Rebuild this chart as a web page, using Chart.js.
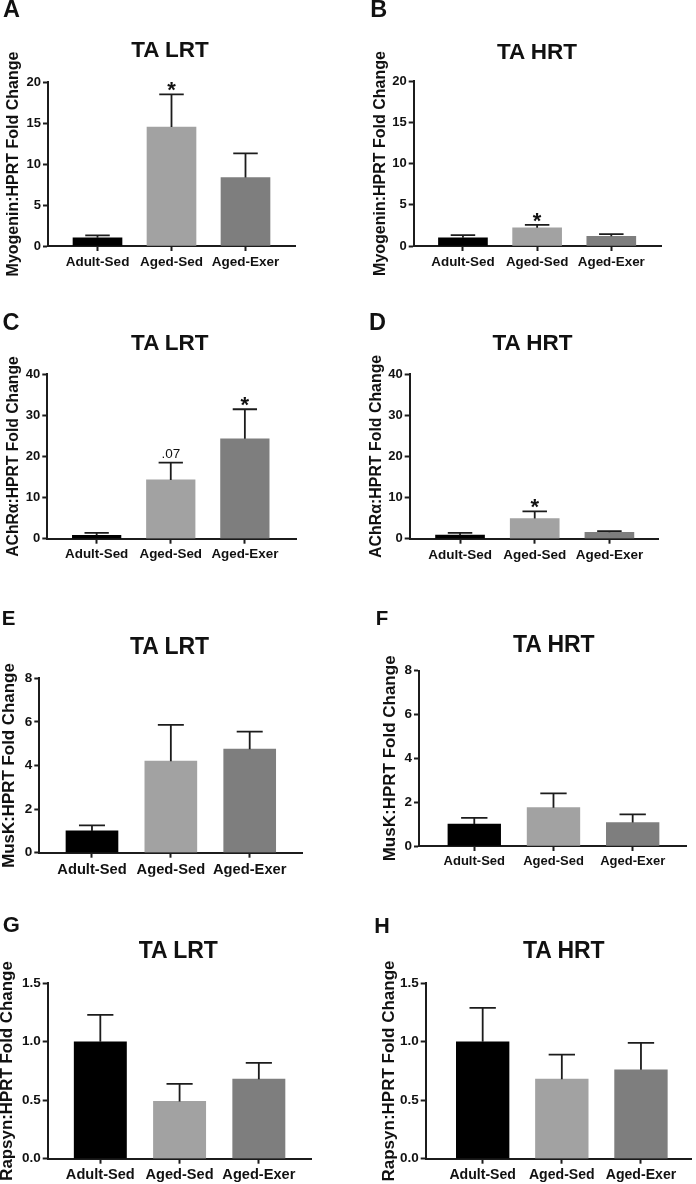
<!DOCTYPE html>
<html>
<head>
<meta charset="utf-8">
<script src="https://cdn.jsdelivr.net/npm/chart.js@4.4.1/dist/chart.umd.min.js"></script>
<style>
    body { margin: 0; background: #fff; }
    #fig { position: relative; width: 696px; height: 1184px; overflow: hidden; background: #fff;
           font-family: "Liberation Sans", Arial, Helvetica, sans-serif; color: #111; }
    #fig canvas { position: absolute; }
    .txt { position: absolute; font-weight: bold; line-height: 1; white-space: nowrap; transform: translateX(-50%); }
</style>
</head>
<body>
<div id="fig"></div>
<script>
// 1. Data
const categories = ['Adult-Sed', 'Aged-Sed', 'Aged-Exer'];
const panelLetters = ['A', 'B', 'C', 'D', 'E', 'F', 'G', 'H'];
const panelTitles = ['TA LRT', 'TA HRT', 'TA LRT', 'TA HRT', 'TA LRT', 'TA HRT', 'TA LRT', 'TA HRT'];
const yTitles = [
    'Myogenin:HPRT Fold Change', 'Myogenin:HPRT Fold Change',
    'AChRα:HPRT Fold Change', 'AChRα:HPRT Fold Change',
    'MusK:HPRT Fold Change', 'MusK:HPRT Fold Change',
    'Rapsyn:HPRT Fold Change', 'Rapsyn:HPRT Fold Change'
];

const myogeninLRT = [1.0, 14.5, 8.35];
const myogeninLRTErr = [0.3, 4.0, 2.95];
const myogeninHRT = [1.0, 2.2, 1.17];
const myogeninHRTErr = [0.33, 0.35, 0.28];
const achrLRT = [0.85, 14.3, 24.3];
const achrLRTErr = [0.55, 4.2, 7.2];
const achrHRT = [0.85, 4.9, 1.55];
const achrHRTErr = [0.55, 1.75, 0.3];
const muskLRT = [1.0, 4.2, 4.75];
const muskLRTErr = [0.25, 1.66, 0.8];
const muskHRT = [1.0, 1.75, 1.07];
const muskHRTErr = [0.28, 0.65, 0.37];
const rapsynLRT = [1.0, 0.49, 0.68];
const rapsynLRTErr = [0.23, 0.15, 0.14];
const rapsynHRT = [1.0, 0.68, 0.76];
const rapsynHRTErr = [0.29, 0.21, 0.23];

const seriesValues = [myogeninLRT, myogeninHRT, achrLRT, achrHRT, muskLRT, muskHRT, rapsynLRT, rapsynHRT];
const seriesErrors = [myogeninLRTErr, myogeninHRTErr, achrLRTErr, achrHRTErr, muskLRTErr, muskHRTErr, rapsynLRTErr, rapsynHRTErr];

const yMaxes = [20, 20, 40, 40, 8, 8, 1.5, 1.5];
const ySteps = [5, 5, 10, 10, 2, 2, 0.5, 0.5];
const yDecimals = [0, 0, 0, 0, 0, 0, 1, 1];
const significance = [
    ['', '*', ''], ['', '*', ''], ['', '.07', '*'], ['', '*', ''],
    ['', '', ''], ['', '', ''], ['', '', ''], ['', '', '']
];

// 2. Layout of each panel (page pixels)
const FONT = '"Liberation Sans", Arial, Helvetica, sans-serif';
const BAR_COLORS = ['#000000', '#a2a2a2', '#7e7e7e'];
const INK = '#1c1c1c';
const X_AXIS_H = 24;
const PANEL_LAYOUT = [
    { box: [0, 0, 348, 290],     area: [48, 82, 295, 246],        xr: [-0.669, 2.669], bar: 49,   title: [170, 50, 22.5],    letter: [11.5, 9, 23.5], yTitleX: 15,    tick: 13,   label: 13.5, axis: 16 },
    { box: [348, 0, 348, 290],   area: [413.7, 81, 661, 246],     xr: [-0.664, 2.67],  bar: 49,   title: [537, 51.7, 22.5],  letter: [378.8, 9.4, 23.5], yTitleX: 382.2, tick: 13,   label: 13.4, axis: 16 },
    { box: [0, 290, 348, 290],   area: [47.3, 374.3, 296, 538.7], xr: [-0.666, 2.69],  bar: 48.6, title: [169.8, 343.3, 22.5], letter: [11, 322.8, 23.5], yTitleX: 15,  tick: 13,   label: 13.4, axis: 15.7 },
    { box: [348, 290, 348, 290], area: [409.7, 374, 658.7, 538.7], xr: [-0.674, 2.66], bar: 49,   title: [532.5, 343.3, 22.5], letter: [377.5, 322.8, 23.5], yTitleX: 378, tick: 13, label: 13.5, axis: 15.9 },
    { box: [0, 580, 348, 300],   area: [39.3, 678.3, 302.7, 852.7], xr: [-0.668, 2.672], bar: 52, title: [169.5, 645.8, 23], letter: [8.6, 618.3, 20.5], yTitleX: 11,   tick: 13.5, label: 14.7, axis: 16.9 },
    { box: [348, 580, 348, 300], area: [419, 670.7, 686.3, 846],  xr: [-0.698, 2.677], bar: 52.7, title: [553.8, 644.2, 23], letter: [382, 618.3, 20.5], yTitleX: 392,   tick: 13.5, label: 13,   axis: 17 },
    { box: [0, 880, 348, 304],   area: [47.7, 983.3, 311.7, 1158.7], xr: [-0.664, 2.667], bar: 52.3, title: [178.3, 950.5, 23], letter: [11.3, 925, 22], yTitleX: 8.8, tick: 13.5, label: 14.6, axis: 16.9 },
    { box: [348, 880, 348, 304], area: [425.7, 983.3, 691.3, 1158.7], xr: [-0.72, 2.636], bar: 52.7, title: [563.8, 950.5, 23], letter: [382, 926.3, 21.5], yTitleX: 390.5, tick: 13.5, label: 14.1, axis: 17 }
];

// 3. Error bars (upper only, with cap) and significance marks
const errorBarPlugin = {
    id: 'errorBars',
    afterDatasetsDraw(chart, args, opts) {
        const {ctx, scales: {y}} = chart;
        const meta = chart.getDatasetMeta(0);
        const values = chart.data.datasets[0].data;
        ctx.save();
        ctx.strokeStyle = INK;
        ctx.lineWidth = 1.8;
        meta.data.forEach((bar, i) => {
            const top = y.getPixelForValue(values[i].y + opts.errors[i]);
            const half = bar.width * 0.25;
            ctx.beginPath();
            ctx.moveTo(bar.x, bar.y);
            ctx.lineTo(bar.x, top);
            ctx.moveTo(bar.x - half, top);
            ctx.lineTo(bar.x + half, top);
            ctx.stroke();

            const mark = opts.marks[i];
            if (!mark) return;
            ctx.fillStyle = '#111';
            ctx.textAlign = 'center';
            ctx.textBaseline = 'alphabetic';
            const centerY = top - 9;
            if (mark === '*') {
                ctx.font = 'bold 22px ' + FONT;
                ctx.fillText(mark, bar.x, centerY + 0.55 * 22);
            } else {
                ctx.font = '13.5px ' + FONT;
                ctx.fillText(mark, bar.x, centerY + 0.358 * 13.5);
            }
        });
        ctx.restore();
    }
};

function addText(text, x, y, size) {
    const el = document.createElement('div');
    el.className = 'txt';
    el.textContent = text;
    el.style.fontSize = size + 'px';
    el.style.left = x + 'px';
    el.style.top = (y - 0.4885 * size) + 'px';
    document.getElementById('fig').appendChild(el);
}

document.addEventListener('DOMContentLoaded', () => {
    const fig = document.getElementById('fig');

    PANEL_LAYOUT.forEach((lay, i) => {
        const [cx, cy, cw, ch] = lay.box;
        const [L, T, R, B] = lay.area;

        const canvas = document.createElement('canvas');
        canvas.width = cw;
        canvas.height = ch;
        canvas.style.left = cx + 'px';
        canvas.style.top = cy + 'px';
        fig.appendChild(canvas);

        addText(panelLetters[i], lay.letter[0], lay.letter[1], lay.letter[2]);
        addText(panelTitles[i], lay.title[0], lay.title[1], lay.title[2]);

        const axisStyle = {
            border: { display: true, color: INK, width: 2 },
            grid: { offset: false, drawOnChartArea: false, drawTicks: true, tickLength: 5, tickWidth: 2, color: INK, tickColor: INK }
        };

        new Chart(canvas, {
            type: 'bar',
            data: {
                datasets: [{
                    data: seriesValues[i].map((v, k) => ({ x: k, y: v })),
                    backgroundColor: BAR_COLORS,
                    borderWidth: 0,
                    barThickness: lay.bar
                }]
            },
            options: {
                responsive: false,
                animation: false,
                events: [],
                layout: {
                    padding: { left: 0, top: T - cy, right: cx + cw - R, bottom: ch - (B - cy) - X_AXIS_H }
                },
                plugins: {
                    legend: { display: false },
                    tooltip: { enabled: false },
                    errorBars: { errors: seriesErrors[i], marks: significance[i] }
                },
                scales: {
                    x: {
                        type: 'linear',
                        min: lay.xr[0],
                        max: lay.xr[1],
                        offset: false,
                        ...axisStyle,
                        afterBuildTicks: axis => { axis.ticks = categories.map((c, k) => ({ value: k })); },
                        afterFit: scale => { scale.height = X_AXIS_H; },
                        ticks: {
                            color: '#111',
                            font: { family: FONT, size: lay.label, weight: 'bold' },
                            padding: 3,
                            autoSkip: false,
                            maxRotation: 0,
                            callback: value => categories[Math.round(value)]
                        }
                    },
                    y: {
                        type: 'linear',
                        min: 0,
                        max: yMaxes[i],
                        ...axisStyle,
                        afterFit: scale => { scale.width = L - cx; },
                        ticks: {
                            stepSize: ySteps[i],
                            color: '#111',
                            font: { family: FONT, size: lay.tick, weight: 'bold' },
                            padding: 2,
                            callback: value => Number(value).toFixed(yDecimals[i])
                        },
                        title: {
                            display: true,
                            text: yTitles[i],
                            color: '#111',
                            font: { family: FONT, size: lay.axis, weight: 'bold', lineHeight: 1 },
                            padding: { top: lay.yTitleX - cx - 1.5 - lay.axis / 2, bottom: 0 }
                        }
                    }
                }
            },
            plugins: [errorBarPlugin]
        });
    });
});
</script>
</body>
</html>
